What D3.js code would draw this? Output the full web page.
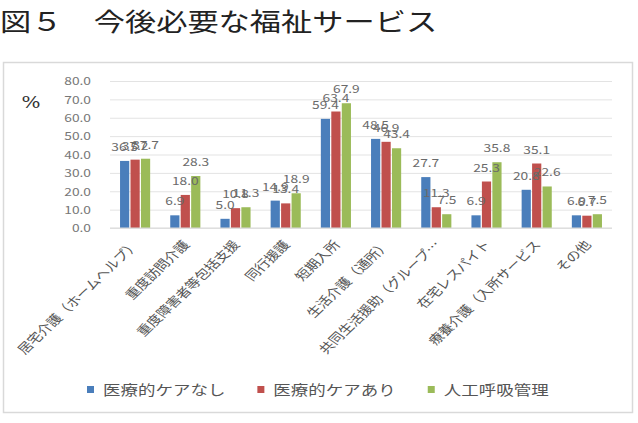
<!DOCTYPE html>
<html>
<head>
<meta charset="utf-8">
<script src="https://cdn.jsdelivr.net/npm/d3@7"></script>
<style>
  body { margin: 0; background: #fff; }
  text { font-family: "Noto Sans CJK JP", "DejaVu Sans", sans-serif; }
</style>
</head>
<body>
<div id="chart"></div>
<script>
// data
var categories = ["居宅介護（ホームヘルプ）", "重度訪問介護", "重度障害者等包括支援", "同行援護", "短期入所",
  "生活介護（通所）", "共同生活援助（グループ…", "在宅レスパイト", "療養介護（入所サービス", "その他"];
var seriesNames = ["医療的ケアなし", "医療的ケアあり", "人工呼吸管理"];
var noCare = [36.5, 6.9, 5.0, 14.9, 59.4, 48.5, 27.7, 6.9, 20.8, 6.9];
var withCare = [37.2, 18.0, 10.8, 13.4, 63.4, 46.9, 11.3, 25.3, 35.1, 6.7];
var ventilator = [37.7, 28.3, 11.3, 18.9, 67.9, 43.4, 7.5, 35.8, 22.6, 7.5];
var yTicks = [0, 10, 20, 30, 40, 50, 60, 70, 80];
var colors = ["#4a7ebb", "#c0504d", "#9bbb59"];

var series = [noCare, withCare, ventilator];
var width = 638, height = 423;
var sx = 1.25; // the picture is stretched sideways
var margin = {top: 81, right: 26, bottom: 195, left: 110};

var svg = d3.select("#chart")
  .append("svg")
  .attr("width", width)
  .attr("height", height);

// Title
svg.append("text")
  .attr("transform", `translate(0,31) scale(${sx},1)`)
  .style("font-size", "25px")
  .style("fill", "#222")
  .text("図５　今後必要な福祉サービス");

// chart frame
svg.append("rect")
  .attr("x", 3.5)
  .attr("y", 62.5)
  .attr("width", 629)
  .attr("height", 350)
  .attr("fill", "none")
  .attr("stroke", "#d9d9d9")
  .attr("stroke-width", 1.5);

svg.append("text")
  .attr("transform", `translate(31,108) scale(${sx},1)`)
  .attr("text-anchor", "middle")
  .style("font-size", "16px")
  .style("font-family", "DejaVu Serif, serif")
  .style("fill", "#333")
  .text("%");

var xScale = d3.scaleBand()
  .domain(categories)
  .range([margin.left, width - margin.right])
  .paddingInner(0.4)
  .paddingOuter(0.2);

var xSub = d3.scaleBand()
  .domain(d3.range(series.length))
  .range([0, xScale.bandwidth()])
  .paddingInner(0.12);

var yScale = d3.scaleLinear()
  .domain([0, 80])
  .range([height - margin.bottom, margin.top]);

// Grid
var yGrid = d3.axisLeft(yScale)
  .tickValues(yTicks)
  .tickSize(-(width - margin.left - margin.right))
  .tickFormat("");

svg.append("g")
  .attr("class", "grid")
  .attr("transform", `translate(${margin.left},0)`)
  .call(yGrid)
  .call(g => g.select(".domain").remove())
  .selectAll("line")
  .attr("stroke", "#e3e3e3");

// Y axis labels
var yAxis = d3.axisLeft(yScale)
  .tickValues(yTicks)
  .tickSize(0)
  .tickFormat(d3.format(".1f"));

var yRender = svg.append("g")
  .attr("transform", `translate(${margin.left - 19},0)`)
  .call(yAxis);
yRender.select(".domain").remove();
yRender.selectAll("text")
  .attr("x", 0)
  .attr("dy", "0.35em")
  .attr("transform", `scale(${sx},1)`)
  .style("font-size", "11px")
  .style("fill", "#777");

// Bars
var barsG = svg.append("g").attr("class", "bars");
series.forEach(function(vals, si) {
  barsG.selectAll(".bar-" + si)
    .data(vals)
    .enter()
    .append("rect")
    .attr("class", "bar-" + si)
    .attr("x", (d, i) => xScale(categories[i]) + xSub(si))
    .attr("y", d => yScale(d))
    .attr("width", xSub.bandwidth())
    .attr("height", d => yScale(0) - yScale(d))
    .attr("fill", colors[si]);
});

// Data labels
var labelsG = svg.append("g").attr("class", "labels");
series.forEach(function(vals, si) {
  labelsG.selectAll(".lab-" + si)
    .data(vals)
    .enter()
    .append("text")
    .attr("class", "lab-" + si)
    .attr("transform", (d, i) => `translate(${xScale(categories[i]) + xSub(si) + xSub.bandwidth() / 2},${yScale(d) - 10}) scale(${sx},1)`)
    .attr("text-anchor", "middle")
    .style("font-size", "11px")
    .style("fill", "#6a6a6a")
    .text(d => d.toFixed(1));
});

// zero line
svg.append("line")
  .attr("x1", margin.left)
  .attr("x2", width - margin.right)
  .attr("y1", yScale(0))
  .attr("y2", yScale(0))
  .attr("stroke", "#d9d9d9");

// X axis labels
svg.append("g")
  .attr("class", "x-axis")
  .selectAll("text")
  .data(categories)
  .enter()
  .append("text")
  .attr("transform", d => `translate(${xScale(d) + xScale.bandwidth() / 2 + 5},${yScale(0) + 17}) scale(${sx},1) rotate(-50)`)
  .attr("text-anchor", "end")
  .style("font-size", "12px")
  .style("fill", "#555")
  .text(d => d);

// Legend
var legend = svg.append("g").attr("class", "legend");
var lx = 87;
seriesNames.forEach(function(name, i) {
  legend.append("rect")
    .attr("x", lx)
    .attr("y", 386)
    .attr("width", 7)
    .attr("height", 7)
    .attr("fill", colors[i]);
  var t = legend.append("text")
    .attr("transform", `translate(${lx + 16},395) scale(${sx},1)`)
    .style("font-size", "14px")
    .style("fill", "#555")
    .text(name);
  lx += 16 + t.node().getComputedTextLength() * sx + 32;
});
</script>
</body>
</html>
